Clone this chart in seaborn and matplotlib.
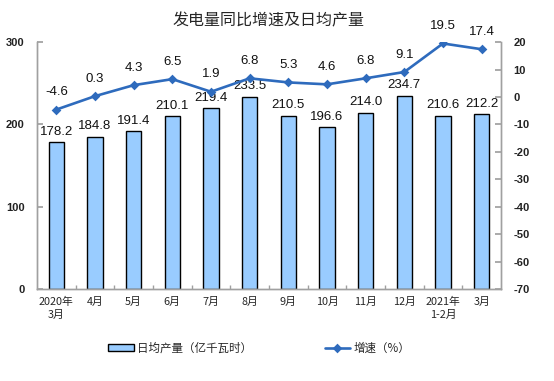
import matplotlib
matplotlib.use("Agg")
import matplotlib.pyplot as plt
import seaborn as sns
import numpy as np
from matplotlib.ticker import MultipleLocator, FixedLocator

# datos
meses = ["2020年\n3月", "4月", "5月", "6月", "7月", "8月", "9月", "10月",
         "11月", "12月", "2021年\n1-2月", "3月"]
produccion = [178.2, 184.8, 191.4, 210.1, 219.4, 233.5, 210.5, 196.6,
              214.0, 234.7, 210.6, 212.2]
crecimiento = [-4.6, 0.3, 4.3, 6.5, 1.9, 6.8, 5.3, 4.6, 6.8, 9.1, 19.5, 17.4]

COLOR_BARRA = "#99ccff"
COLOR_LINEA = "#2e6bbd"
COLOR_EJE = "#a0a0a0"
FUENTE_NUM = "Liberation Sans"

sns.set_theme(style="white")
plt.rcParams["font.family"] = ["Noto Sans CJK SC", "DejaVu Sans"]
plt.rcParams["axes.unicode_minus"] = False

fig = plt.figure(figsize=(5.54, 3.81), dpi=100)
ax = fig.add_axes([0.0668, 0.2415, 0.8375, 0.648])

sns.barplot(x=meses, y=produccion, ax=ax, color=COLOR_BARRA, width=0.4,
            edgecolor="black", linewidth=1.0, saturation=1, label="日均产量（亿千瓦时）")
ax.set_ylim(0, 300)
ax.set_xlim(-0.5, len(meses) - 0.5)
ax.yaxis.set_major_locator(MultipleLocator(100))

for i, v in enumerate(produccion):
    ax.annotate(f"{v:.1f}", xy=(i, v), xytext=(0, 7.5), textcoords="offset points",
                ha="center", va="center", fontsize=9.5, family=FUENTE_NUM, color="#111111")

ax2 = ax.twinx()
sns.pointplot(x=list(range(len(meses))), y=crecimiento, ax=ax2, color=COLOR_LINEA,
              markers="D", markersize=3.5, linewidth=1.9, native_scale=True,
              label="增速（%）")
ax2.set_ylim(-70, 20)
ax2.yaxis.set_major_locator(MultipleLocator(10))
ax2.set_xlim(-0.5, len(meses) - 0.5)

for i, v in enumerate(crecimiento):
    ax2.annotate(f"{v:.1f}", xy=(i, v), xytext=(0, 12.5), textcoords="offset points",
                 ha="center", va="center", fontsize=9.5, family=FUENTE_NUM, color="#111111")

for a in (ax, ax2):
    for s in a.spines.values():
        s.set_color(COLOR_EJE)
        s.set_linewidth(1.0)
    a.spines["top"].set_visible(False)
    a.set_xlabel("")
    a.set_ylabel("")
    if a.get_legend() is not None:
        a.get_legend().remove()

ax.tick_params(axis="y", direction="in", length=4, color=COLOR_EJE, labelsize=8, pad=9)
ax2.tick_params(axis="y", direction="in", length=4, color=COLOR_EJE, labelsize=8, pad=9)
for t in ax.get_yticklabels() + ax2.get_yticklabels():
    t.set_family(FUENTE_NUM)
    t.set_fontweight("bold")
    t.set_color("#222222")

ax.set_xticks(range(len(meses)))
ax.set_xticklabels(meses, fontsize=7.8, linespacing=1.25)
ax.tick_params(axis="x", length=0, pad=6)
ax.xaxis.set_minor_locator(FixedLocator(np.arange(0.5, len(meses) - 0.5, 1)))
ax.tick_params(axis="x", which="minor", direction="in", length=3, color=COLOR_EJE,
               bottom=True)

fig.suptitle("发电量同比增速及日均产量", x=0.484, y=0.968, fontsize=11.5)

h1, l1 = ax.get_legend_handles_labels()
h2, l2 = ax2.get_legend_handles_labels()
fig.legend(h1 + h2, l1 + l2, loc="center", bbox_to_anchor=(0.468, 0.087), ncol=2,
           frameon=False, fontsize=8.3, handlelength=2.2, handleheight=0.5,
           columnspacing=6.3, handletextpad=0.3)

fig.savefig("out.png", dpi=100)
